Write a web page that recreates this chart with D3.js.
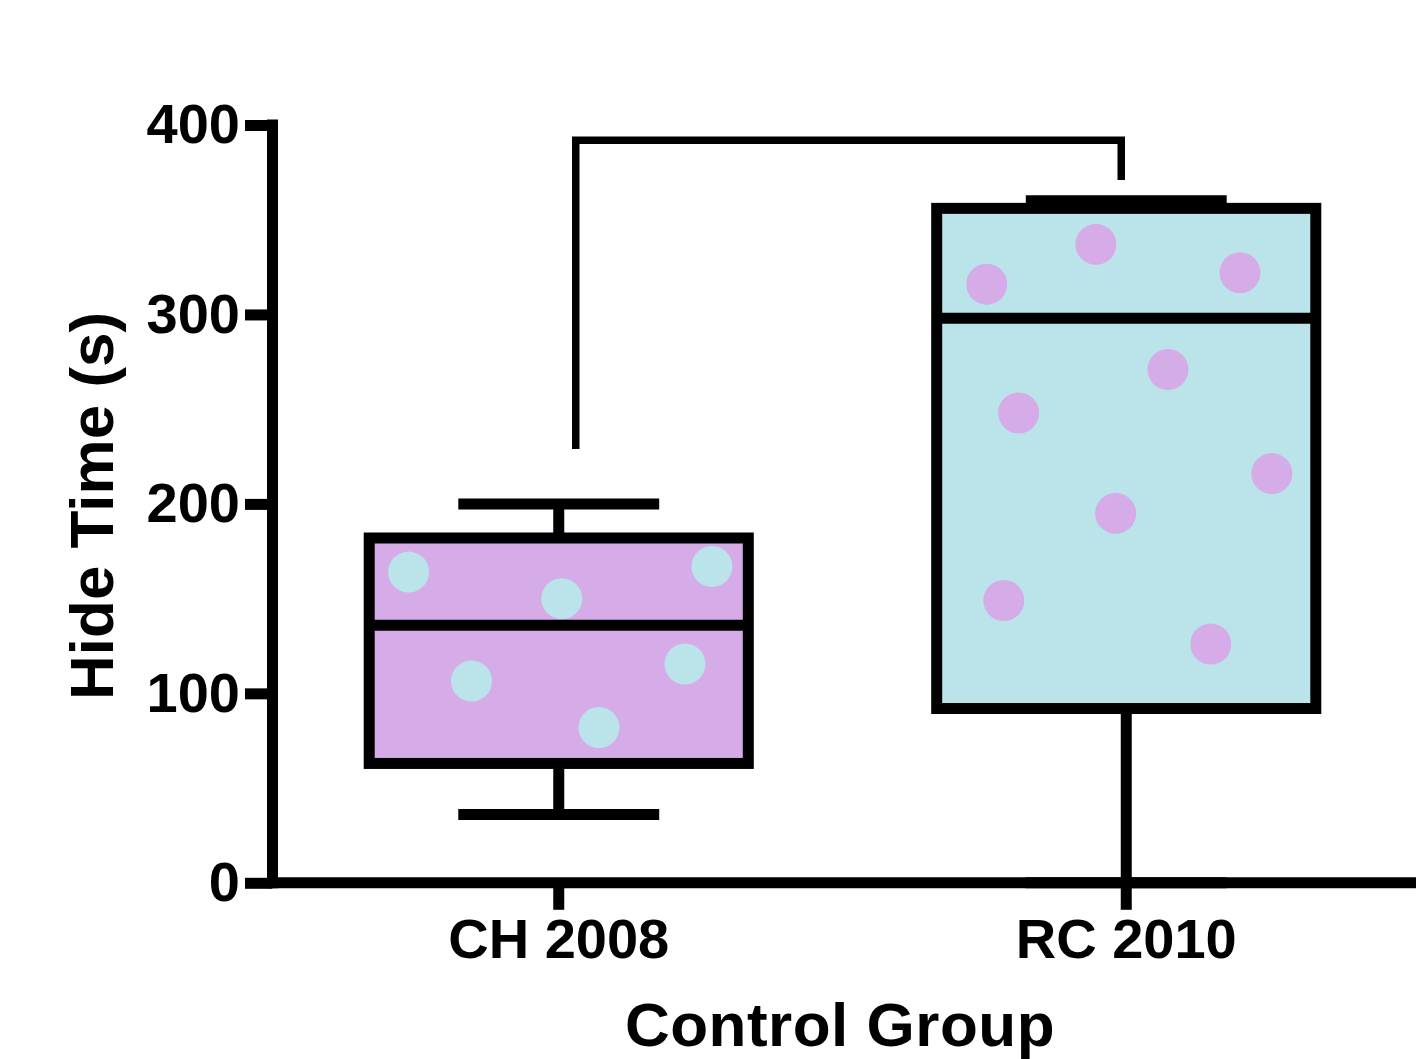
<!DOCTYPE html>
<html>
<head>
<meta charset="utf-8">
<script src="https://cdn.jsdelivr.net/npm/d3@7"></script>
<style>
  html, body { margin: 0; padding: 0; background: #ffffff; }
  svg { display: block; }
  text { font-family: "Liberation Sans", Arial, Helvetica, sans-serif; font-weight: bold; fill: #000; }
</style>
</head>
<body>
<svg id="chart" width="1420" height="1059"></svg>
<script>
// Groups on the x axis
const categories = ["CH 2008", "RC 2010"];

// Box-and-whisker summary per group (seconds)
const whiskerLow  = [36, 0];
const quartile1   = [63, 92];
const medians     = [136, 298];
const quartile3   = [182, 356];
const whiskerHigh = [200, 360];

// Individual hide times per group
const chValues = [164, 150, 167, 106.5, 115.5, 82];
const rcValues = [316, 337, 322, 271, 248, 216, 195, 149, 126];

// Horizontal spread of each point, as a fraction of the box width
const chJitter = [-0.396, 0.008, 0.404, -0.230, 0.333, 0.106];
const rcJitter = [-0.368, -0.080, 0.300, 0.110, -0.284, 0.384, -0.028, -0.323, 0.223];

// Y tick values
const yTicks = [0, 100, 200, 300, 400];

// Comparison bracket: left foot, top and right foot (seconds)
const bracketLevels = [229, 392, 371];

const groups = categories.map((c, i) => ({
  name: c,
  lo: whiskerLow[i], q1: quartile1[i], med: medians[i], q3: quartile3[i], hi: whiskerHigh[i],
  values: i === 0 ? chValues : rcValues,
  jitter: i === 0 ? chJitter : rcJitter
}));

const lavender = "#d5abe8";
const paleBlue = "#bae4ea";
const boxFill = [lavender, paleBlue];
const dotFill = [paleBlue, lavender];

const svg = d3.select("#chart");

const axisX = 272.5;
const axisRight = 1416;
const x = d3.scaleBand().domain(categories).range([275, 1410]).paddingInner(0).paddingOuter(0);
const y = d3.scaleLinear().domain([0, 400]).range([882.8, 125]);

const boxW = x.bandwidth() * 0.668;
const capW = x.bandwidth() * 0.354;
const lw = 11;
const cx = d => x(d) + x.bandwidth() / 2;

// ---- axes ----
const yAxis = d3.axisLeft(y).tickValues(yTicks).tickSize(27.5).tickPadding(5).tickSizeOuter(0);
const gy = svg.append("g").attr("transform", `translate(${axisX},0)`).call(yAxis);
gy.select(".domain").remove();
gy.selectAll(".tick line").attr("stroke", "#000").attr("stroke-width", lw);
gy.selectAll(".tick text").style("font-size", "56px").attr("dy", "0.32em");

const xAxis = d3.axisBottom(x).tickSize(27).tickPadding(8).tickSizeOuter(0);
const gx = svg.append("g").attr("transform", `translate(0,${y(0)})`).call(xAxis);
gx.select(".domain").remove();
gx.selectAll(".tick line").attr("stroke", "#000").attr("stroke-width", lw);
gx.selectAll(".tick text").style("font-size", "56px").attr("dy", "0.71em");

// axis lines
svg.append("line")
  .attr("x1", axisX).attr("x2", axisX)
  .attr("y1", y(400) - lw / 2).attr("y2", y(0) + lw / 2)
  .attr("stroke", "#000").attr("stroke-width", lw);
svg.append("line")
  .attr("x1", axisX).attr("x2", axisRight)
  .attr("y1", y(0)).attr("y2", y(0))
  .attr("stroke", "#000").attr("stroke-width", lw);

// ---- boxes ----
const g = svg.append("g").selectAll("g.box").data(groups).join("g").attr("class", "box");

// whisker stems
g.append("line")
  .attr("x1", d => cx(d.name)).attr("x2", d => cx(d.name))
  .attr("y1", d => y(d.hi)).attr("y2", d => y(d.lo))
  .attr("stroke", "#000").attr("stroke-width", lw);
// whisker caps
g.each(function(d) {
  [d.lo, d.hi].forEach(v => {
    d3.select(this).append("line")
      .attr("x1", cx(d.name) - capW / 2).attr("x2", cx(d.name) + capW / 2)
      .attr("y1", y(v)).attr("y2", y(v))
      .attr("stroke", "#000").attr("stroke-width", lw);
  });
});
// box body
g.append("rect")
  .attr("x", d => cx(d.name) - boxW / 2)
  .attr("y", d => y(d.q3))
  .attr("width", boxW)
  .attr("height", d => y(d.q1) - y(d.q3))
  .attr("fill", (d, i) => boxFill[i]);
// points
g.each(function(d, i) {
  d3.select(this).selectAll("circle").data(d.values).join("circle")
    .attr("cx", (v, j) => cx(d.name) + d.jitter[j] * boxW)
    .attr("cy", v => y(v))
    .attr("r", 20.5)
    .attr("fill", dotFill[i]);
});
// median
g.append("line")
  .attr("x1", d => cx(d.name) - boxW / 2).attr("x2", d => cx(d.name) + boxW / 2)
  .attr("y1", d => y(d.med)).attr("y2", d => y(d.med))
  .attr("stroke", "#000").attr("stroke-width", lw);
// box outline
g.append("rect")
  .attr("x", d => cx(d.name) - boxW / 2)
  .attr("y", d => y(d.q3))
  .attr("width", boxW)
  .attr("height", d => y(d.q1) - y(d.q3))
  .attr("fill", "none")
  .attr("stroke", "#000").attr("stroke-width", lw);

// ---- comparison bracket ----
const bx1 = cx(categories[0]) + 17;
const bx2 = cx(categories[1]) - 5;
svg.append("path")
  .attr("d", `M${bx1},${y(bracketLevels[0])}V${y(bracketLevels[1])}H${bx2}V${y(bracketLevels[2])}`)
  .attr("fill", "none").attr("stroke", "#000").attr("stroke-width", 7.5)
  .attr("stroke-linejoin", "miter");

// ---- axis titles ----
svg.append("text")
  .attr("transform", `translate(113,${(y(0) + y(400)) / 2 + 2}) rotate(-90)`)
  .attr("text-anchor", "middle")
  .style("font-size", "62px")
  .text("Hide Time (s)");

svg.append("text")
  .attr("x", 840).attr("y", 1046)
  .attr("text-anchor", "middle")
  .style("font-size", "62px")
  .style("letter-spacing", "0.5px")
  .text("Control Group");
</script>
</body>
</html>
